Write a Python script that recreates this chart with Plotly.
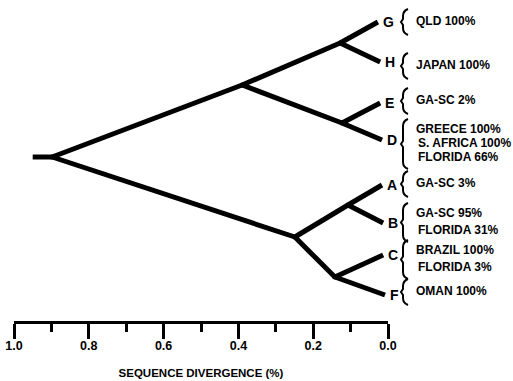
import plotly.graph_objects as go

# ---------------- data ----------------
leaf_names = ["G", "H", "E", "D", "A", "B", "C", "F"]
leaf_div = [0.027, 0.021, 0.021, 0.016, 0.016, 0.013, 0.013, 0.008]
leaf_labels = [
    ["QLD 100%"],
    ["JAPAN 100%"],
    ["GA-SC 2%"],
    ["GREECE 100%", "S. AFRICA 100%", "FLORIDA 66%"],
    ["GA-SC 3%"],
    ["GA-SC 95%", "FLORIDA 31%"],
    ["BRAZIL 100%", "FLORIDA 3%"],
    ["OMAN 100%"],
]
internal_names = ["root", "U", "GH", "ED", "L", "AB", "CF"]
internal_div = [0.898, 0.39, 0.128, 0.123, 0.249, 0.107, 0.142]
edges = [("root", "U"), ("root", "L"), ("U", "GH"), ("U", "ED"),
         ("GH", "G"), ("GH", "H"), ("ED", "E"), ("ED", "D"),
         ("L", "AB"), ("L", "CF"), ("AB", "A"), ("AB", "B"),
         ("CF", "C"), ("CF", "F")]
root_stub_div = 0.95
tick_vals = [1.0, 0.8, 0.6, 0.4, 0.2, 0.0]
tick_text = ["1.0", "0.8", "0.6", "0.4", "0.2", "0.0"]
axis_title = "SEQUENCE DIVERGENCE (%)"

# ---------------- layout (vertical placement of rows, in px from top) ----------------
W, H = 513, 381
leaf_row = [22, 62, 103, 140, 185, 223, 255, 295]
internal_row = [157, 85, 43, 123, 237, 205, 277]
label_rows = [[21], [65], [100], [129, 143, 157], [183], [213, 230], [250, 267], [291]]
X0_PX, X1_PX = 14, 388          # pixel span of the divergence axis
AXIS_Y_PX = 322
PX_PER_UNIT = (X1_PX - X0_PX) / 1.0

pos = {}
for n, d, r in zip(leaf_names, leaf_div, leaf_row):
    pos[n] = (d, r)
for n, d, r in zip(internal_names, internal_div, internal_row):
    pos[n] = (d, r)

xs, ys = [], []
rx, ry = pos["root"]
xs += [root_stub_div, rx, None]
ys += [ry, ry, None]
for p, c in edges:
    xs += [pos[p][0], pos[c][0], None]
    ys += [pos[p][1], pos[c][1], None]

fig = go.Figure()
fig.add_trace(go.Scatter(x=xs, y=ys, mode="lines",
                         line=dict(color="black", width=5),
                         hoverinfo="skip", showlegend=False))
fig.add_trace(go.Scatter(x=[pos[n][0] for n in internal_names],
                         y=[pos[n][1] for n in internal_names],
                         mode="markers", marker=dict(color="black", size=5),
                         hoverinfo="skip", showlegend=False))

FONT = "Liberation Sans"
annotations = []
shapes = []


def ypx2paper(y):
    return 1 - y / H


def P(x, y):
    return f"{x / W:.5f},{ypx2paper(y):.5f}"


for n, d, r, labs, rows in zip(leaf_names, leaf_div, leaf_row, leaf_labels, label_rows):
    annotations.append(dict(x=d, y=r, xref="x", yref="y", text=n,
                            showarrow=False, xanchor="left", yanchor="middle",
                            xshift=3, font=dict(family=FONT, size=14, color="black", weight="bold")))
    for i, (t, yy) in enumerate(zip(labs, rows)):
        annotations.append(dict(x=0.0, y=yy, xref="x", yref="y", text=t,
                                showarrow=False, xanchor="left", yanchor="middle",
                                xshift=26 if i == 0 else 28,
                                font=dict(family=FONT, size=12, color="black", weight="bold")))
    # bracket
    top = min(rows[0] - 10, (rows[0] + rows[-1]) / 2 - 12)
    bot = max(rows[-1] + 12, (rows[0] + rows[-1]) / 2 + 14)
    mid = (top + bot) / 2
    bx = X1_PX + 15
    path = (f"M {P(bx + 5, top)} Q {P(bx, top + 2)} {P(bx, top + 7)} "
            f"L {P(bx, mid - 3)} L {P(bx - 2, mid)} L {P(bx, mid + 3)} "
            f"L {P(bx, bot - 7)} Q {P(bx, bot - 2)} {P(bx + 5, bot)}")
    shapes.append(dict(type="path", xref="paper", yref="paper", path=path,
                       line=dict(color="black", width=2)))

fig.update_layout(
    width=W, height=H,
    margin=dict(l=0, r=0, t=0, b=0),
    plot_bgcolor="white", paper_bgcolor="white",
    annotations=annotations, shapes=shapes,
    xaxis=dict(
        domain=[X0_PX / W, X1_PX / W], range=[1.0, 0.0],
        anchor="free", position=1 - AXIS_Y_PX / H,
        showline=True, linewidth=3, linecolor="black",
        ticks="outside", ticklen=15, tickwidth=3, tickcolor="black",
        tickvals=tick_vals, ticktext=tick_text, ticklabelstandoff=-4,
        tickfont=dict(family=FONT, size=12.5, color="black", weight="bold"),
        minor=dict(dtick=0.1, tick0=0, ticks="outside", ticklen=8, tickwidth=3,
                   tickcolor="black", showgrid=False),
        showgrid=False, zeroline=False, automargin=False,
        title=dict(text=axis_title, standoff=16,
                   font=dict(family=FONT, size=11.5, color="black", weight="bold")),
    ),
    yaxis=dict(domain=[0, 1], range=[H, 0], visible=False, fixedrange=True),
    showlegend=False,
)

fig.write_html("out.html", config={"displayModeBar": False, "staticPlot": True},
               post_script="document.body.style.margin='0px';document.body.style.overflow='hidden';")
